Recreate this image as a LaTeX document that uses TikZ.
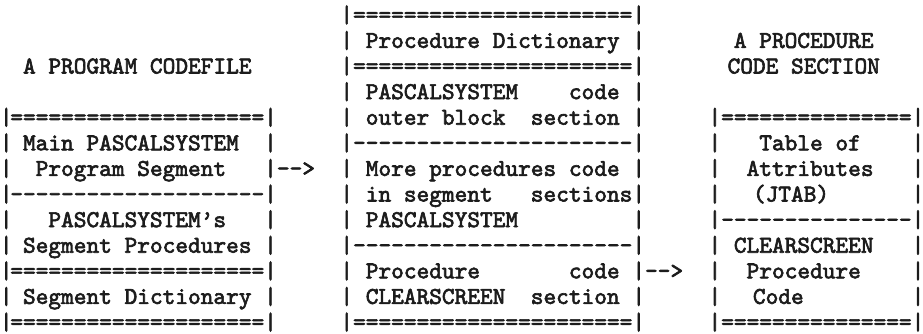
\documentclass[tikz,border=0pt]{standalone}
\usepackage{fontspec}
\newfontfamily\tw{lmmono10-regular}[Extension=.otf,FakeBold=2.6]
\definecolor{ink}{RGB}{28,28,28}
\newcommand\lbar{\makebox[10.347pt][l]{|}}
\tikzset{
  txt/.style={anchor=base west, inner sep=0pt, outer sep=0pt, text=ink,
    font=\tw\fontsize{24.18pt}{25.6pt}\selectfont}
}
\begin{document}
\begin{tikzpicture}[x=1pt,y=-1pt]
\useasboundingbox (0,0) rectangle (923,334);
% ---------------- left: A PROGRAM CODEFILE ----------------
\node[txt] (lt)  at (23.04,73.5) {A~PROGRAM~CODEFILE};
\node[txt] (l8)  at (0,124.7) {\lbar====================|};
\node[txt] (l7)  at (0,150.3) {\lbar~Main~PASCALSYSTEM~~|};
\node[txt] (l6)  at (0,175.9) {\lbar~~Program~Segment~~~|-->};
\node[txt] (l5)  at (0,201.5) {\lbar--------------------|};
\node[txt] (l4)  at (0,227.1) {\lbar~~~PASCALSYSTEM’s~~~|};
\node[txt] (l3)  at (0,252.7) {\lbar~Segment~Procedures~|};
\node[txt] (l2)  at (0,278.3) {\lbar====================|};
\node[txt] (l1)  at (0,303.9) {\lbar~Segment~Dictionary~|};
\node[txt] (l0)  at (0,329.5) {\lbar====================|};
% ---------------- middle: procedure dictionary ----------------
\node[txt] (m12) at (340.39,22.3)  {|======================|};
\node[txt] (m11) at (340.39,47.9)  {|~Procedure~Dictionary~|};
\node[txt] (m10) at (340.39,73.5)  {|======================|};
\node[txt] (m9)  at (340.39,99.1)  {|~PASCALSYSTEM~~~~code~|};
\node[txt] (m8)  at (340.39,124.7) {|~outer~block~~section~|};
\node[txt] (m7)  at (340.39,150.3) {|----------------------|};
\node[txt] (m6)  at (340.39,175.9) {|~More~procedures~code~|};
\node[txt] (m5)  at (340.39,201.5) {|~in~segment~~~sections|};
\node[txt] (m4)  at (340.39,227.1) {|~PASCALSYSTEM~~~~~~~~~|};
\node[txt] (m3)  at (340.39,252.7) {|----------------------|};
\node[txt] (m2)  at (340.39,278.3) {|~Procedure~~~~~~~code~|-->};
\node[txt] (m1)  at (340.39,303.9) {|~CLEARSCREEN~~section~|};
\node[txt] (m0)  at (340.39,329.5) {|======================|};
% ---------------- right: A PROCEDURE CODE SECTION ----------------
\node[txt] (rt1) at (733.9,47.9)   {A~PROCEDURE};
\node[txt] (rt2) at (727.56,73.5)  {CODE~SECTION};
\node[txt] (r8)  at (708.52,124.7) {|===============|};
\node[txt] (r7)  at (708.52,150.3) {|~~~Table~of~~~~|};
\node[txt] (r6)  at (708.52,175.9) {|~~Attributes~~~|};
\node[txt] (r5)  at (708.52,201.5) {|~~~~~~~~~~~~~~~|};
\node[txt] (r5t) at (752.95,201.5) {(JTAB)};
\node[txt] (r4)  at (708.52,227.1) {|---------------|};
\node[txt] (r3)  at (708.52,252.7) {|~CLEARSCREEN~~~|};
\node[txt] (r2)  at (708.52,278.3) {|~~Procedure~~~~|};
\node[txt] (r1)  at (708.52,303.9) {|~~~~~~~~~~~~~~~|};
\node[txt] (r1t) at (752.95,303.9) {Code};
\node[txt] (r0)  at (708.52,329.5) {|===============|};
\end{tikzpicture}
\end{document}
